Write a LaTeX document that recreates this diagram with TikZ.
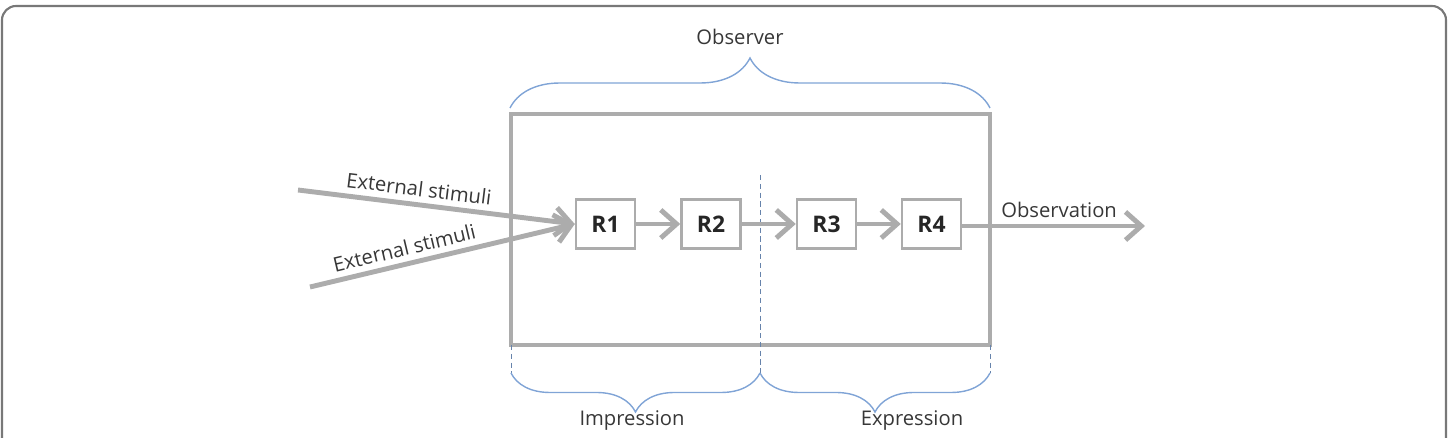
\documentclass[tikz,border=0pt]{standalone}
\usepackage{fontspec}
\setmainfont{Open Sans}
\usetikzlibrary{arrows.meta,decorations.pathreplacing}
\definecolor{boxgray}{RGB}{172,172,172}
\definecolor{bracecol}{RGB}{128,164,214}
\definecolor{txtgray}{RGB}{55,55,55}
\definecolor{framegray}{RGB}{120,120,120}
\begin{document}
\begin{tikzpicture}[x=0.02cm,y=-0.02cm,
    rbox/.style={draw=boxgray,line width=1.4pt,fill=white,minimum width=1.18cm,minimum height=0.98cm,
        font=\fontsize{13}{15}\selectfont\bfseries,text=black!85},
    flow/.style={draw=boxgray,line width=2.8pt,-{Straight Barb[length=9pt,width=16pt]}},
    lbl/.style={font=\fontsize{11.5}{13}\selectfont,text=txtgray},
    brc/.style={draw=bracecol,line width=0.8pt,decorate},
    guide/.style={draw=bracecol!80!black,line width=0.5pt,densely dashed}]
    \useasboundingbox (0,0) rectangle (1451,438);
    \draw[framegray,line width=1.2pt,rounded corners=8pt] (2,438) -- (2,6) -- (1446,6) -- (1446,438);
    % observer box
    \draw[boxgray,line width=2pt] (511,114) rectangle (990,345);
    \draw[guide] (760,175) -- (760,373);
    \draw[guide] (511,345) -- (511,373);
    \draw[guide] (990,345) -- (990,373);
    % braces
    \draw[brc,decoration={brace,amplitude=1.0cm}] (510,108) -- (990,108);
    \node[lbl] (observer) at (740,37) {Observer};
    \draw[brc,decoration={brace,amplitude=0.78cm}] (760,373) -- (511,373);
    \draw[brc,decoration={brace,amplitude=0.78cm}] (990,373) -- (760,373);
    \node[lbl] (impression) at (632,421) {Impression};
    \node[lbl] (expression) at (912,421) {Expression};
    % stages
    \foreach \i/\x in {1/605.5,2/711,3/826.5,4/931.5}
        \node[rbox] (r\i) at (\x,224) {R\i};
    \foreach \a/\b in {1/2,2/3,3/4}
        \draw[flow] (r\a) -- (r\b);
    % stimuli and observation
    \coordinate (ext1) at (298,190);
    \coordinate (ext2) at (310,287);
    \coordinate (obs) at (1145,226);
    \draw[flow] (ext1) -- node[lbl,sloped,above,pos=0.43] (stim1) {External stimuli} (r1.west);
    \draw[flow] (ext2) -- node[lbl,sloped,above,pos=0.37] (stim2) {External stimuli} (r1.west);
    \draw[flow] (r4.east |- obs) -- node[lbl,above,pos=0.53] (observation) {Observation} (obs);
\end{tikzpicture}
\end{document}
